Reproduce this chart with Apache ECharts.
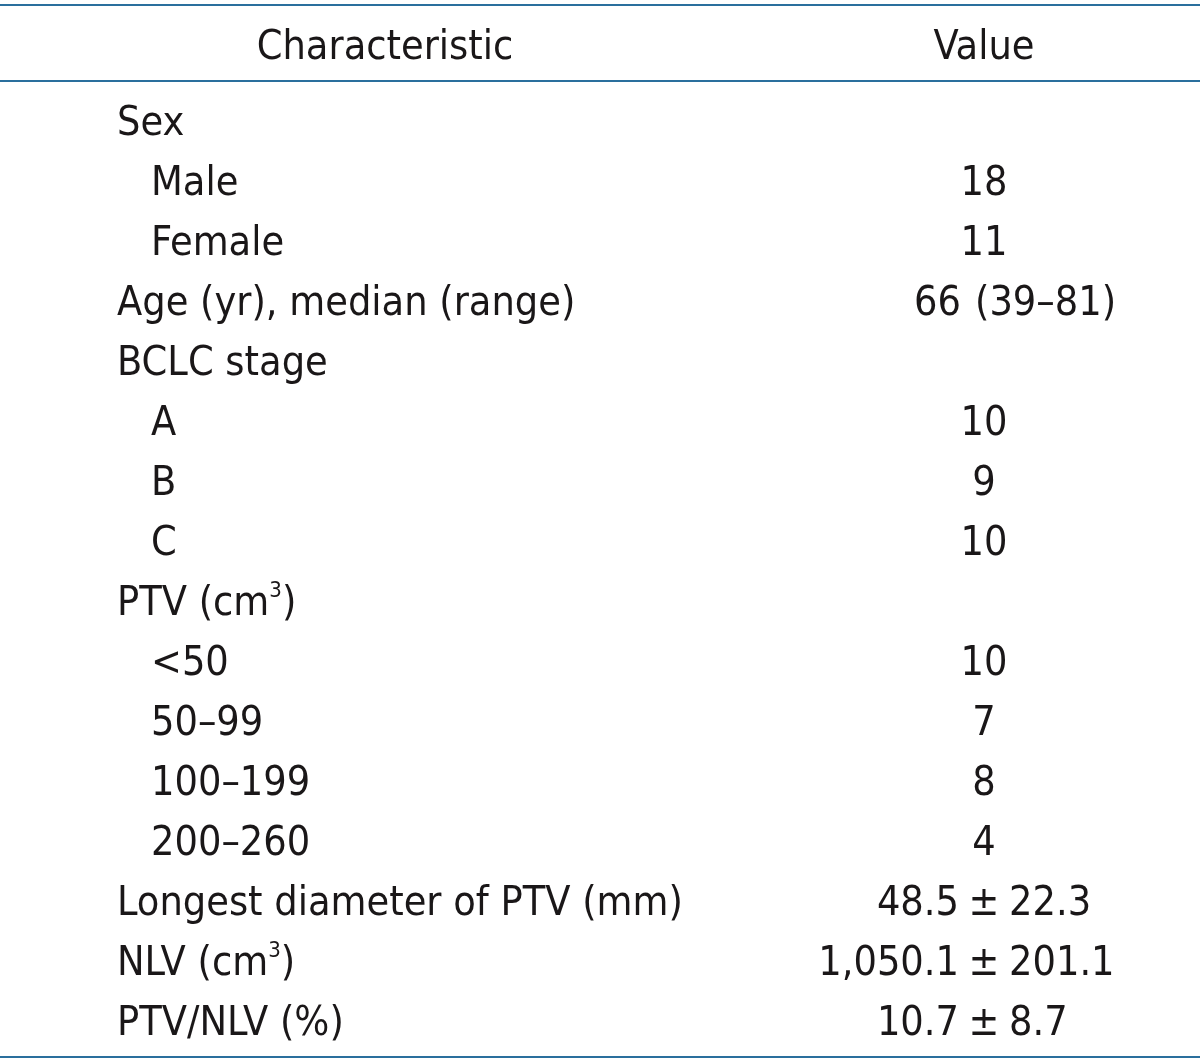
<!DOCTYPE html>
<html>
<head>
<meta charset="utf-8">
<script src="https://cdn.jsdelivr.net/npm/echarts@6/dist/echarts.min.js"></script>
<style>
html,body{margin:0;padding:0;background:#fff;}
#chart{width:1200px;height:1064px;}
</style>
</head>
<body>
<div id="chart"></div>
<script>
// ---- table data ----
const headers = ['Characteristic', 'Value'];
const rowLabels = ['Sex', 'Male', 'Female', 'Age (yr), median (range)', 'BCLC stage', 'A', 'B', 'C',
  'PTV (cm{sup|3})', '<50', '50\u201399', '100\u2013199', '200\u2013260',
  'Longest diameter of PTV (mm)', 'NLV (cm{sup|3})', 'PTV/NLV (%)'];
const rowLevels = [0, 1, 1, 0, 0, 1, 1, 1, 0, 1, 1, 1, 1, 0, 0, 0];
const rowValues = ['', '18', '11', '66 (39\u201381)', '', '10', '9', '10', '', '10', '7', '8', '4',
  '48.5 \u00b1 22.3', '1,050.1 \u00b1 201.1', '10.7 \u00b1 8.7'];

// ---- layout / style ----
const FONT = '"Liberation Sans Narrow", "DejaVu Sans Condensed", "Arial Narrow", sans-serif';
const FS = 41;
const TXT = '#1a1718';
const RULE = '#2a6f9d';
const COL_LABEL = 117, COL_INDENT = 151, COL_HEAD_LABEL = 385, COL_VALUE = 984;
const PM_LEFT_END = 959, PM_RIGHT_START = 1009;   // around the ± sign
const MR_LEFT_END = 961, MR_RIGHT_START = 975;    // median (range)
const HEADER_ROW = -1.267;

const chart = echarts.init(document.getElementById('chart'), null, {renderer: 'canvas'});

const labelData = rowLabels.map((t, i) => ({
  value: [rowLevels[i] ? COL_INDENT : COL_LABEL, i], name: t
}));
const headerData = [
  {value: [COL_HEAD_LABEL, HEADER_ROW], name: headers[0]},
  {value: [COL_VALUE, HEADER_ROW], name: headers[1]}
];

// split values into centred / left part / ± / right part
const centerData = [], leftData = [], pmData = [], rightData = [];
rowValues.forEach((t, i) => {
  if (!t) return;
  if (t.indexOf(' \u00b1 ') >= 0) {
    const parts = t.split(' \u00b1 ');
    leftData.push({value: [PM_LEFT_END, i], name: parts[0]});
    pmData.push({value: [COL_VALUE, i], name: '\u00b1'});
    rightData.push({value: [PM_RIGHT_START, i], name: parts[1]});
    return;
  }
  const m = t.match(/^(\S+) (\(.+\))$/);
  if (m) {
    leftData.push({value: [MR_LEFT_END, i], name: m[1]});
    rightData.push({value: [MR_RIGHT_START, i], name: m[2]});
    return;
  }
  centerData.push({value: [COL_VALUE, i], name: t});
});

const baseText = {fontFamily: FONT, fontSize: FS, color: TXT};
function textSeries(data, position, align, extra) {
  return Object.assign({
    type: 'scatter', symbolSize: 0, data: data, silent: true,
    itemStyle: {opacity: 1},
    label: Object.assign({show: true, position: position, distance: 0, align: align,
      verticalAlign: 'middle', formatter: p => p.name}, baseText)
  }, extra || {});
}

const labelSeries = textSeries(labelData, 'right', 'left');
labelSeries.label.lineHeight = 48;
labelSeries.label.rich = {sup: {fontFamily: FONT, fontSize: 22, color: TXT, verticalAlign: 'top', lineHeight: 20}};

const headerSeries = textSeries(headerData, 'inside', 'center', {
  markLine: {
    silent: true, symbol: 'none', animation: false,
    label: {show: false},
    lineStyle: {color: RULE, width: 2, type: 'solid'},
    data: [{yAxis: -1.9833}, {yAxis: -0.7167}, {yAxis: 15.55}]
  }
});

const option = {
  animation: false,
  backgroundColor: '#ffffff',
  grid: {left: 0, right: 0, top: 0, bottom: 0},
  xAxis: {type: 'value', min: 0, max: 1200, show: false},
  yAxis: {type: 'value', min: -124 / 60, max: 940 / 60, inverse: true, show: false},
  series: [
    headerSeries,
    labelSeries,
    textSeries(centerData, 'inside', 'center'),
    textSeries(leftData, 'left', 'right'),
    textSeries(pmData, 'inside', 'center'),
    textSeries(rightData, 'right', 'left')
  ]
};
chart.setOption(option);
</script>
</body>
</html>
